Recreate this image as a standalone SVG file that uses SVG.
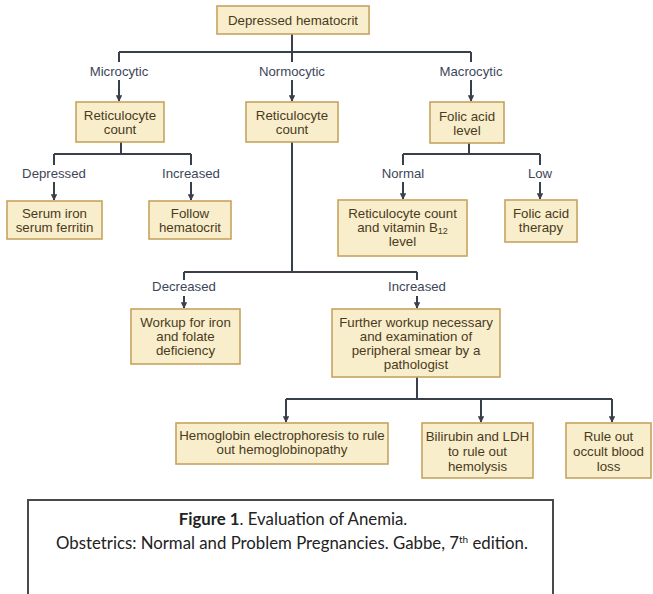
<svg xmlns="http://www.w3.org/2000/svg" width="653" height="594" viewBox="0 0 653 594">
<style>
.box{fill:#f8eecb;stroke:#c6a35e;stroke-width:1.6}
.bt{font-family:"Liberation Sans",Arial,sans-serif;font-size:13.3px;fill:#4a3a22;text-anchor:middle}
.lb{font-family:"Liberation Sans",Arial,sans-serif;font-size:13.2px;fill:#3d4658;text-anchor:middle}
.ln{fill:none;stroke:#3a3f4c;stroke-width:2}
.cap{font-family:Lato,"Liberation Sans",sans-serif;font-size:16.8px;fill:#222;text-anchor:middle}
</style>
<defs>
<marker id="ah" viewBox="0 0 10 10" refX="9" refY="5" markerWidth="3.2" markerHeight="3.2" orient="auto" markerUnits="strokeWidth">
<path d="M0,0 L10,5 L0,10 z" fill="#3a3f4c"/>
</marker>
</defs>
<rect width="653" height="594" fill="#ffffff"/>

<g id="connectors">
<path class="ln" d="M292,34 V52 M119,52 H471 M119,52 V62 M292,52 V62 M471,52 V62"/>
<path class="ln" marker-end="url(#ah)" d="M119,80 V101"/>
<path class="ln" marker-end="url(#ah)" d="M292,80 V101"/>
<path class="ln" marker-end="url(#ah)" d="M471,80 V101"/>
<path class="ln" d="M121,142 V154 M54,154 H191 M54,154 V165 M191,154 V165"/>
<path class="ln" marker-end="url(#ah)" d="M54,182 V200"/>
<path class="ln" marker-end="url(#ah)" d="M191,182 V200"/>
<path class="ln" d="M469,143 V154 M403,154 H540 M403,154 V165 M540,154 V165"/>
<path class="ln" marker-end="url(#ah)" d="M403,182 V199"/>
<path class="ln" marker-end="url(#ah)" d="M540,182 V199"/>
<path class="ln" d="M292,142 V272 M184,272 H417 M184,272 V280 M417,272 V280"/>
<path class="ln" marker-end="url(#ah)" d="M184,296 V308"/>
<path class="ln" marker-end="url(#ah)" d="M417,296 V308"/>
<path class="ln" d="M417,377 V399 M286,399 H612"/>
<path class="ln" marker-end="url(#ah)" d="M286,399 V422"/>
<path class="ln" marker-end="url(#ah)" d="M481,399 V422"/>
<path class="ln" marker-end="url(#ah)" d="M612,399 V422"/>
<text class="lb" x="119" y="76">Microcytic</text>
<text class="lb" x="292" y="76">Normocytic</text>
<text class="lb" x="471" y="76">Macrocytic</text>
<text class="lb" x="54" y="178">Depressed</text>
<text class="lb" x="191" y="178">Increased</text>
<text class="lb" x="403" y="178">Normal</text>
<text class="lb" x="540" y="178">Low</text>
<text class="lb" x="184" y="291">Decreased</text>
<text class="lb" x="417" y="291">Increased</text>
</g>

<g id="n-top"><rect class="box" x="217" y="6" width="152" height="28"/><text class="bt" x="293" y="25">Depressed hematocrit</text></g>
<g id="n-retic-micro"><rect class="box" x="76" y="102" width="88" height="40"/><text class="bt" x="120" y="120">Reticulocyte</text><text class="bt" x="120" y="134">count</text></g>
<g id="n-retic-normo"><rect class="box" x="246" y="102" width="92" height="40"/><text class="bt" x="292" y="120">Reticulocyte</text><text class="bt" x="292" y="134">count</text></g>
<g id="n-folic"><rect class="box" x="430" y="102" width="74" height="41"/><text class="bt" x="467" y="121">Folic acid</text><text class="bt" x="467" y="135">level</text></g>
<g id="n-serum"><rect class="box" x="7" y="201" width="95" height="38"/><text class="bt" x="54.5" y="218">Serum iron</text><text class="bt" x="54.5" y="232">serum ferritin</text></g>
<g id="n-follow"><rect class="box" x="149" y="201" width="82" height="38"/><text class="bt" x="190" y="218">Follow</text><text class="bt" x="190" y="232">hematocrit</text></g>
<g id="n-b12"><rect class="box" x="338" y="200" width="129" height="56"/><text class="bt" x="402.5" y="218">Reticulocyte count</text><text class="bt" x="402.5" y="232">and vitamin B<tspan font-size="9" dy="2">12</tspan></text><text class="bt" x="402.5" y="246">level</text></g>
<g id="n-therapy"><rect class="box" x="505" y="200" width="72" height="42"/><text class="bt" x="541" y="218">Folic acid</text><text class="bt" x="541" y="232">therapy</text></g>
<g id="n-workup"><rect class="box" x="131" y="309" width="109" height="55"/><text class="bt" x="185.5" y="327">Workup for iron</text><text class="bt" x="185.5" y="341">and folate</text><text class="bt" x="185.5" y="355">deficiency</text></g>
<g id="n-further"><rect class="box" x="332" y="309" width="168" height="68"/><text class="bt" x="416" y="327">Further workup necessary</text><text class="bt" x="416" y="341">and examination of</text><text class="bt" x="416" y="355">peripheral smear by a</text><text class="bt" x="416" y="369">pathologist</text></g>
<g id="n-hemoglobin"><rect class="box" x="176" y="423" width="212" height="41"/><text class="bt" x="282" y="440">Hemoglobin electrophoresis to rule</text><text class="bt" x="282" y="454">out hemoglobinopathy</text></g>
<g id="n-bilirubin"><rect class="box" x="422" y="423" width="111" height="55"/><text class="bt" x="477.5" y="441">Bilirubin and LDH</text><text class="bt" x="477.5" y="456">to rule out</text><text class="bt" x="477.5" y="471">hemolysis</text></g>
<g id="n-occult"><rect class="box" x="566" y="423" width="85" height="55"/><text class="bt" x="608.5" y="441">Rule out</text><text class="bt" x="608.5" y="456">occult blood</text><text class="bt" x="608.5" y="471">loss</text></g>

<g id="caption">
<rect x="28" y="500" width="525" height="100" fill="#ffffff" stroke="#4a4a4a" stroke-width="2"/>
<text class="cap" x="293" y="525"><tspan font-weight="bold">Figure 1</tspan>. Evaluation of Anemia.</text>
<text class="cap" x="292" y="549">Obstetrics: Normal and Problem Pregnancies. Gabbe, 7<tspan font-size="10" dy="-6">th</tspan><tspan dy="6"> edition.</tspan></text>
</g>
</svg>
